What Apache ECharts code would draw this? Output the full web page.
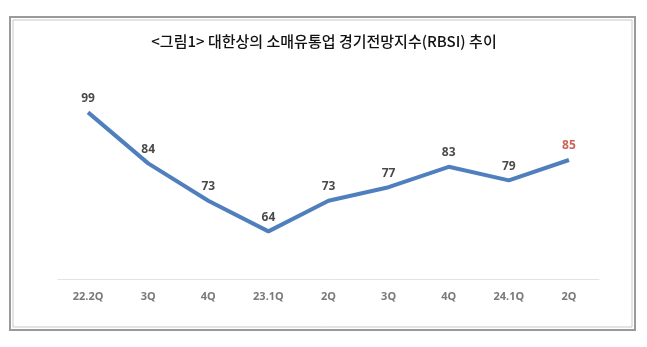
<!DOCTYPE html>
<html><head><meta charset="utf-8">
<script src="https://cdn.jsdelivr.net/npm/echarts@6/dist/echarts.min.js"></script>
<style>html,body{margin:0;padding:0;background:#fff}#c{width:647px;height:347px}</style>
</head><body><div id="c"></div>
<script>
var titleText = '<그림1> 대한상의 소매유통업 경기전망지수(RBSI) 추이';
var categories = ['22.2Q','3Q','4Q','23.1Q','2Q','3Q','4Q','24.1Q','2Q'];
var values = [99,84,73,64,73,77,83,79,85];
var highlightIndex = 8;

var chart = echarts.init(document.getElementById('c'));
chart.setOption({
  backgroundColor:'#fff',
  animation:false,
  title:{text:titleText,left:319,top:29,textAlign:'center',
    textStyle:{fontFamily:'Noto Sans CJK KR',fontSize:15,fontWeight:500,color:'#111'}},
  graphic:[
    {type:'rect',shape:{x:10,y:17,width:625,height:313},style:{fill:'none',stroke:'#9a9a9a',lineWidth:2}},
    {type:'rect',shape:{x:13,y:20,width:619,height:307},style:{fill:'none',stroke:'#c8c8c8',lineWidth:1}}
  ],
  grid:{left:58,right:48,top:75,bottom:68},
  xAxis:{type:'category',data:categories,boundaryGap:true,
    axisLine:{lineStyle:{color:'#e3e3e3',width:1}},axisTick:{show:false},
    axisLabel:{color:'#7a7a7a',fontSize:11,fontWeight:'bold',fontFamily:'Noto Sans',margin:12}},
  yAxis:{type:'value',min:50,max:110,show:false,splitLine:{show:false}},
  series:[{type:'line',data:values,
    symbol:'none',
    lineStyle:{color:'#4f7fbd',width:4},z:2
  },{type:'scatter',data:values.map(function(v,i){
      return i===highlightIndex?{value:v,label:{color:'#c0392b'}}:v;}),
    symbolSize:2,itemStyle:{color:'rgba(79,127,189,0.01)'},z:3,silent:true,
    label:{show:true,position:'top',distance:7,color:'#1a1a1a',fontSize:12,fontWeight:'bold',fontFamily:'Noto Sans'}
  }]
});
</script></body></html>
